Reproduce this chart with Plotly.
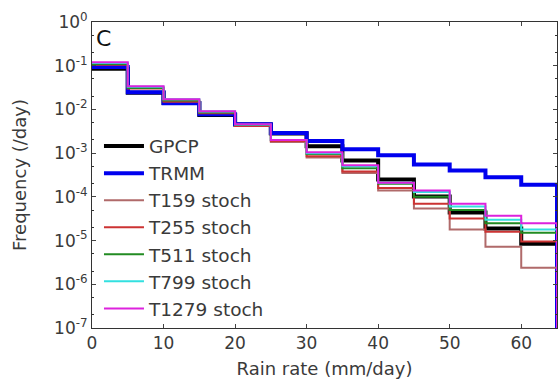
import plotly.graph_objects as go

bin_edges = [0, 5, 10, 15, 20, 25, 30, 35, 40, 45, 50, 55, 60, 65]

gpcp  = [0.085, 0.024, 0.014, 0.0075, 0.0045, 0.0028, 0.00143, 0.00068, 0.00025, 0.000102, 4.4e-5, 1.9e-5, 8.5e-6]
trmm  = [0.093, 0.0248, 0.0139, 0.0078, 0.0046, 0.0029, 0.0019, 0.00122, 0.00089, 0.00055, 0.0004, 0.00028, 0.00019]
t159  = [0.11, 0.032, 0.016, 0.0085, 0.0042, 0.0018, 0.0008, 0.00035, 0.00014, 5.4e-5, 1.8e-5, 7.2e-6, 2.4e-6]
t255  = [0.105, 0.030, 0.015, 0.0082, 0.0042, 0.0019, 0.00085, 0.00038, 0.00016, 7e-5, 3.2e-5, 1.6e-5, 9.5e-6]
t511  = [0.11, 0.031, 0.016, 0.0085, 0.0044, 0.0020, 0.00095, 0.00045, 0.0002, 0.0001, 5e-5, 2.5e-5, 1.5e-5]
t799  = [0.115, 0.033, 0.017, 0.009, 0.0045, 0.0020, 0.001, 0.0005, 0.00021, 0.00013, 6e-5, 3e-5, 1.8e-5]
t1279 = [0.12, 0.034, 0.017, 0.0091, 0.0046, 0.0020, 0.00105, 0.00053, 0.00021, 0.00014, 7e-5, 3.7e-5, 2.5e-5]

series_names = ["GPCP", "TRMM", "T159 stoch", "T255 stoch", "T511 stoch", "T799 stoch", "T1279 stoch"]
series_vals = [gpcp, trmm, t159, t255, t511, t799, t1279]
colors = ["#000000", "#0000ee", "#b06a6a", "#cc3333", "#228b22", "#33e0e0", "#dd22dd"]
widths = [4, 4, 2, 2, 2, 2, 2]

x_ticks = [0, 10, 20, 30, 40, 50, 60]
y_tickvals = [1e-7, 1e-6, 1e-5, 1e-4, 1e-3, 1e-2, 1e-1, 1e0]
y_ticktext = ["10<sup>-7</sup>", "10<sup>-6</sup>", "10<sup>-5</sup>", "10<sup>-4</sup>",
              "10<sup>-3</sup>", "10<sup>-2</sup>", "10<sup>-1</sup>", "10<sup>0</sup>"]
floor_val = 1e-9

fig = go.Figure()
for name, vals, c, w in zip(series_names, series_vals, colors, widths):
    xs = list(bin_edges) + [bin_edges[-1]]
    ys = list(vals) + [vals[-1], floor_val]
    fig.add_trace(go.Scatter(x=xs, y=ys, mode="lines", name=name,
                             line=dict(color=c, width=w, shape="hv")))

font_family = "DejaVu Sans"
fig.update_layout(
    width=559, height=383,
    margin=dict(l=92, r=2, t=22, b=55),
    paper_bgcolor="white", plot_bgcolor="white",
    font=dict(family=font_family, size=17, color="#3a3a3a"),
    showlegend=True,
    legend=dict(x=0.015, y=0.655, xanchor="left", yanchor="top",
                bgcolor="rgba(0,0,0,0)", font=dict(size=18.5, color="#3a3a3a"),
                itemwidth=40, tracegroupgap=0),
    xaxis=dict(range=[0, 65], tickvals=x_ticks, ticks="inside", ticklen=4,
               showline=True, linecolor="#333333", linewidth=1, mirror="ticks",
               showgrid=False, zeroline=False, tickfont=dict(size=17),
               title=dict(text="Rain rate (mm/day)", font=dict(size=18), standoff=9)),
    yaxis=dict(type="log", range=[-7, 0], tickvals=y_tickvals, ticktext=y_ticktext,
               ticks="inside", ticklen=4, showline=True, linecolor="#333333", linewidth=1,
               mirror="ticks", showgrid=False, zeroline=False, tickfont=dict(size=17),
               minor=dict(ticks="inside", ticklen=2, tickcolor="#333333", showgrid=False),
               title=dict(text="Frequency (/day)", font=dict(size=18), standoff=22)),
    annotations=[dict(text="C", x=0.005, y=0.995, xref="paper", yref="paper",
                      xanchor="left", yanchor="top", showarrow=False,
                      font=dict(size=22, color="#111111"))],
)
fig.write_html("out.html")
